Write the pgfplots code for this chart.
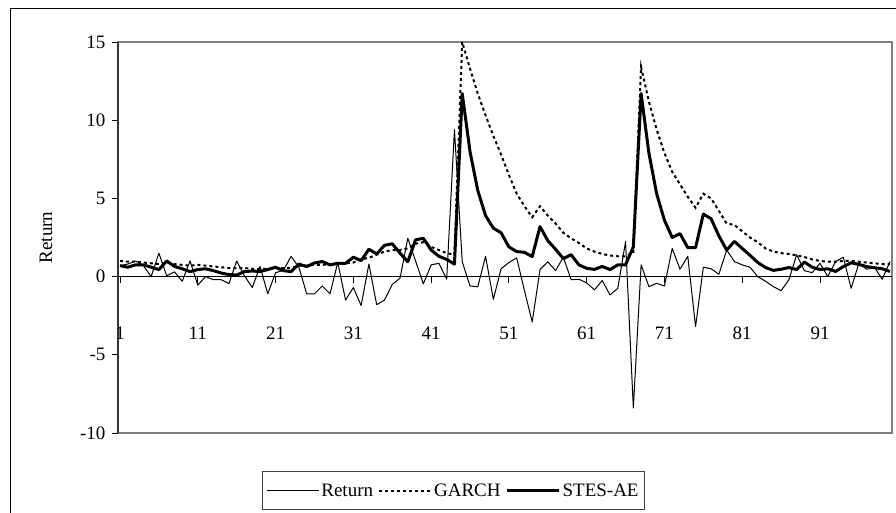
\documentclass[border=0pt]{standalone}
\usepackage{pgfplots}
\usepackage{pgfplotstable}
\pgfplotsset{compat=1.18}
\usepackage{fontspec}
\setmainfont{Liberation Serif}

% t, return, GARCH forecast, STES-AE forecast
\pgfplotstableread{
i ret garch stes
1 0.7 1.0 0.7
2 0.8 0.95 0.6
3 1.0 0.95 0.75
4 0.7 0.9 0.75
5 0.0 0.85 0.6
6 1.5 0.8 0.45
7 0.05 0.9 1.0
8 0.3 0.8 0.65
9 -0.3 0.75 0.5
10 1.0 0.7 0.32
11 -0.55 0.75 0.45
12 0.0 0.7 0.5
13 -0.2 0.65 0.38
14 -0.2 0.6 0.23
15 -0.45 0.55 0.13
16 1.0 0.55 0.1
17 0.05 0.55 0.32
18 -0.7 0.5 0.36
19 0.65 0.5 0.32
20 -1.1 0.5 0.45
21 0.25 0.55 0.6
22 0.4 0.55 0.38
23 1.3 0.55 0.32
24 0.6 0.7 0.8
25 -1.1 0.7 0.64
26 -1.1 0.75 0.87
27 -0.6 0.75 0.96
28 -1.1 0.8 0.75
29 0.9 0.8 0.85
30 -1.5 0.85 0.85
31 -0.7 0.9 1.24
32 -1.85 1.1 1.02
33 0.8 1.2 1.75
34 -1.8 1.4 1.45
35 -1.5 1.6 2.0
36 -0.5 1.7 2.1
37 -0.1 1.7 1.5
38 2.45 1.8 0.95
39 1.0 2.1 2.35
40 -0.47 2.2 2.45
41 0.75 1.9 1.7
42 0.85 1.7 1.3
43 -0.17 1.5 1.1
44 9.4 1.4 0.8
45 0.95 15.0 11.7
46 -0.6 13.3 8.0
47 -0.65 11.7 5.5
48 1.3 10.3 3.9
49 -1.45 9.0 3.1
50 0.5 7.8 2.8
51 0.9 6.5 1.9
52 1.2 5.3 1.6
53 -0.9 4.5 1.55
54 -2.9 3.8 1.28
55 0.45 4.5 3.2
56 0.95 3.9 2.3
57 0.38 3.4 1.75
58 1.24 2.8 1.15
59 -0.2 2.45 1.4
60 -0.17 2.15 0.75
61 -0.4 1.8 0.53
62 -0.85 1.6 0.46
63 -0.25 1.45 0.65
64 -1.17 1.35 0.45
65 -0.75 1.3 0.75
66 2.24 1.3 0.75
67 -8.4 1.5 1.9
68 0.75 13.4 11.7
69 -0.64 11.2 7.9
70 -0.43 9.4 5.3
71 -0.6 7.9 3.6
72 1.8 6.7 2.5
73 0.47 5.9 2.75
74 1.3 5.1 1.85
75 -3.2 4.4 1.85
76 0.6 5.3 4.0
77 0.5 5.0 3.7
78 0.15 4.2 2.6
79 1.7 3.4 1.7
80 0.96 3.3 2.25
81 0.75 2.9 1.8
82 0.6 2.5 1.36
83 0.0 2.2 0.9
84 -0.3 1.8 0.58
85 -0.64 1.6 0.4
86 -0.9 1.5 0.47
87 -0.2 1.45 0.58
88 1.4 1.35 0.45
89 0.38 1.25 0.93
90 0.25 1.1 0.6
91 0.85 1.0 0.45
92 0.0 0.95 0.5
93 0.96 0.95 0.33
94 1.24 1.0 0.64
95 -0.75 1.0 0.88
96 0.85 0.95 0.78
97 0.47 0.9 0.64
98 0.6 0.85 0.57
99 -0.17 0.8 0.5
100 0.96 0.8 0.33
}\data

\begin{document}
\begin{tikzpicture}[x=1pt, y=1pt, font=\fontsize{19}{22}\selectfont]
\useasboundingbox (0,0) rectangle (896,512);
% chart frame and plot area frame
\draw[black, line width=1pt] (10,-20) rectangle (920,503);
\draw[gray, line width=1.3pt] (118,79) rectangle (892,470);

\begin{axis}[
	at={(118pt,79pt)}, anchor=south west,
	scale only axis, width=774pt, height=391pt,
	xmin=0.74, xmax=100.26, ymin=-10, ymax=15,
	axis x line=middle, axis y line=left,
	axis line style={-},
	x axis line style={black, line width=0.9pt},
	y axis line style={black!80, line width=1.4pt},
	xtick={1,11,...,91},
	xticklabels={1,11,21,31,41,51,61,71,81,91},
	ytick={-10,-5,0,5,10,15},
	yticklabels={-10,-5,0,5,10,15},
	tick align=outside, major tick length=6pt,
	tick style={black, line width=0.9pt},
	tick label style={font=\fontsize{19}{22}\selectfont},
	xticklabel style={anchor=north, yshift=-41pt},
	yticklabel style={anchor=east, xshift=-3pt},
	legend columns=-1,
	legend style={
		at={(0.186,-0.197)}, anchor=south west,
		draw=black!75, line width=0.8pt,
		font=\fontsize{19}{22}\selectfont,
		inner xsep=4pt, inner ysep=10pt,
		/tikz/every even column/.append style={column sep=3pt},
	},
	legend image code/.code={\draw[#1] (0pt,0pt) -- (52pt,0pt);},
]
\addplot[black, line width=1pt, line join=round] table[x=i, y=ret] {\data};
\addplot[black, line width=2pt, dash pattern=on 3pt off 3pt] table[x=i, y=garch] {\data};
\addplot[black, line width=3pt, line join=round] table[x=i, y=stes] {\data};
\legend{Return, GARCH, STES-AE}
\end{axis}
\node[rotate=90] at (46,274.5) {Return};
\end{tikzpicture}
\end{document}
